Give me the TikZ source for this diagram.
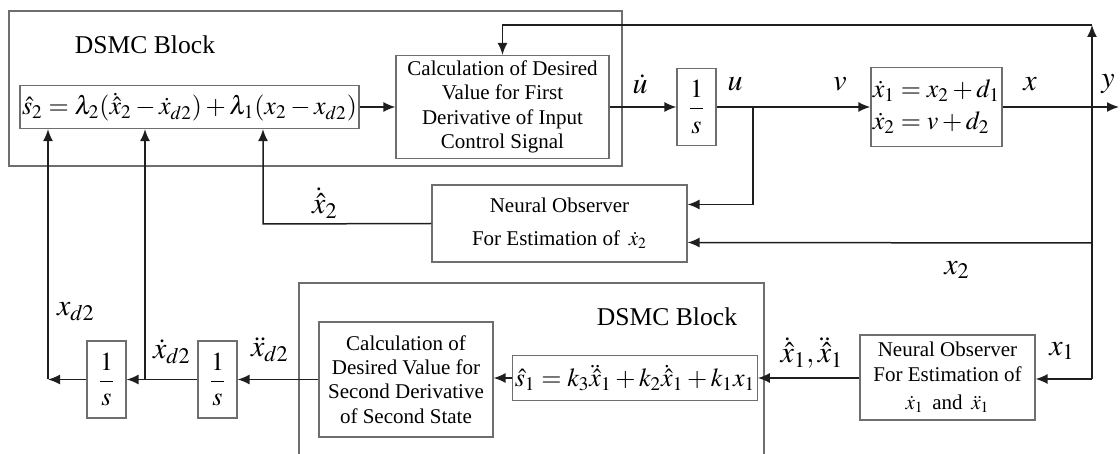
\documentclass[tikz,border=0pt]{standalone}
\usepackage{mathptmx}
\usepackage{fontspec}
\setmainfont{Liberation Serif}
\usetikzlibrary{arrows.meta}
\definecolor{boxgray}{HTML}{6E6E6E}
\definecolor{wirecol}{HTML}{1E1E1E}
\begin{document}
\begin{tikzpicture}[x=0.5pt,y=-0.5pt,
  box/.style={draw=boxgray, line width=0.6pt, fill=white, inner sep=1pt, align=center,
              font=\fontsize{10.5}{12.2}\selectfont},
  eqbox/.style={box, font=\fontsize{13}{15}\selectfont},
  intbox/.style={box, minimum width=19.5pt, minimum height=38.5pt, font=\fontsize{13}{15}\selectfont},
  outer/.style={draw=boxgray, line width=0.6pt},
  wire/.style={draw=wirecol, line width=0.75pt},
  arr/.style={wire, -{Latex[length=6pt,width=5pt]}},
  sig/.style={font=\fontsize{15}{18}\selectfont, inner sep=0pt},
  title/.style={font=\fontsize{12.8}{15}\selectfont, inner sep=0pt}]
\useasboundingbox (0,0) rectangle (1120,454);

% controller enclosures
\draw[outer] (9,11) rectangle (622,166);
\draw[outer] (299,460) -- (299,283) -- (764,283) -- (764,460);
\node[title] (t1) at (145,45) {DSMC Block};
\node[title] (t2) at (667,317) {DSMC Block};

% upper loop blocks
\node[eqbox, minimum width=160.5pt, minimum height=21.5pt] (s2) at (189.5,107)
  {$\hat s_2=\lambda_2(\dot{\hat x}_2-\dot x_{d2})+\lambda_1(x_2-x_{d2})$};
\node[box, minimum width=106.5pt, minimum height=51.5pt] (calc1) at (502.5,107)
  {Calculation of Desired\\Value for First\\Derivative of Input\\Control Signal};
\node[intbox] (int1) at (696.5,107) {$\displaystyle\frac{1}{s}$};
\node[eqbox, minimum width=61.5pt, minimum height=39.5pt, align=left] (plant) at (936.5,107)
  {$\dot x_1=x_2+d_1$\\[1pt]$\dot x_2=v+d_2$};
\node[box, minimum width=127.5pt, minimum height=38.5pt] (obs1) at (559.5,223.5)
  {Neural Observer\\[4pt]For Estimation of \,$\dot x_2$};

% lower loop blocks
\node[eqbox, minimum width=109pt, minimum height=22.5pt] (s1) at (635,378)
  {$\hat s_1=k_3\ddot{\hat x}_1+k_2\dot{\hat x}_1+k_1x_1$};
\node[box, minimum width=87pt, minimum height=57.5pt] (calc2) at (406,379.5)
  {Calculation of\\Desired Value for\\Second Derivative\\of Second State};
\node[intbox] (int2) at (217.5,379.5) {$\displaystyle\frac{1}{s}$};
\node[intbox] (int3) at (106.5,379.5) {$\displaystyle\frac{1}{s}$};
\node[box, minimum width=87.5pt, minimum height=42.5pt] (obs2) at (947.5,377.5)
  {Neural Observer\\For Estimation of\\[2pt]$\dot x_1$ \,and\, $\ddot x_1$};

% branch points and corners
\coordinate (bu) at (753,107);
\coordinate (jx) at (1092,107);
\coordinate (top) at (1092,25);
\coordinate (yout) at (1119,107);
\coordinate (jx2) at (1092,243);
\coordinate (jx1) at (1092,379);
\coordinate (fb) at (263,224);
\coordinate (bd) at (145,379.5);
\coordinate (bx) at (48,379.5);

% upper loop wiring
\draw[arr] (s2.east) -- (calc1.west);
\draw[arr] (calc1.east) -- (int1.west);
\draw[arr] (int1.east) -- (plant.west);
\draw[arr] (bu) |- ([yshift=9.5pt]obs1.east);
\draw[arr] (plant.east) -- (yout);
\draw[arr] (jx) -- (top);
\draw[arr] (top) -| (calc1.north);
\draw[wire] (jx) -- (jx1);
\draw[arr] (jx2) -- ([yshift=-9.5pt]obs1.east);
\draw[arr] (obs1.west) -- (fb) -- (fb |- s2.south);

% lower loop wiring
\draw[arr] (jx1) -- (obs2.east |- jx1);
\draw[arr] (obs2.west |- s1.east) -- (s1.east);
\draw[arr] (s1.west) -- (calc2.east |- s1.west);
\draw[arr] (calc2.west) -- (int2.east);
\draw[arr] (int2.west) -- (int3.east);
\draw[arr] (bd) -- (bd |- s2.south);
\draw[arr] (int3.west) -- (bx);
\draw[arr] (bx) -- (bx |- s2.south);

% signal labels
\node[sig] (ldu) at (640,84) {$\dot u$};
\node[sig] (lu) at (735,84) {$u$};
\node[sig] (lv) at (840,84) {$v$};
\node[sig] (lx) at (1030,84) {$x$};
\node[sig] (ly) at (1108,84) {$y$};
\node[sig] (lx2h) at (325,203) {$\dot{\hat x}_2$};
\node[sig] (lx2) at (957,270) {$x_2$};
\node[sig] (lx1) at (1062,351) {$x_1$};
\node[sig] (lx1h) at (812,353) {$\dot{\hat x}_1,\ddot{\hat x}_1$};
\node[sig] (lxdd) at (270,350) {$\ddot x_{d2}$};
\node[sig] (lxd) at (172,352) {$\dot x_{d2}$};
\node[sig] (lxd0) at (76,312) {$x_{d2}$};
\end{tikzpicture}
\end{document}
